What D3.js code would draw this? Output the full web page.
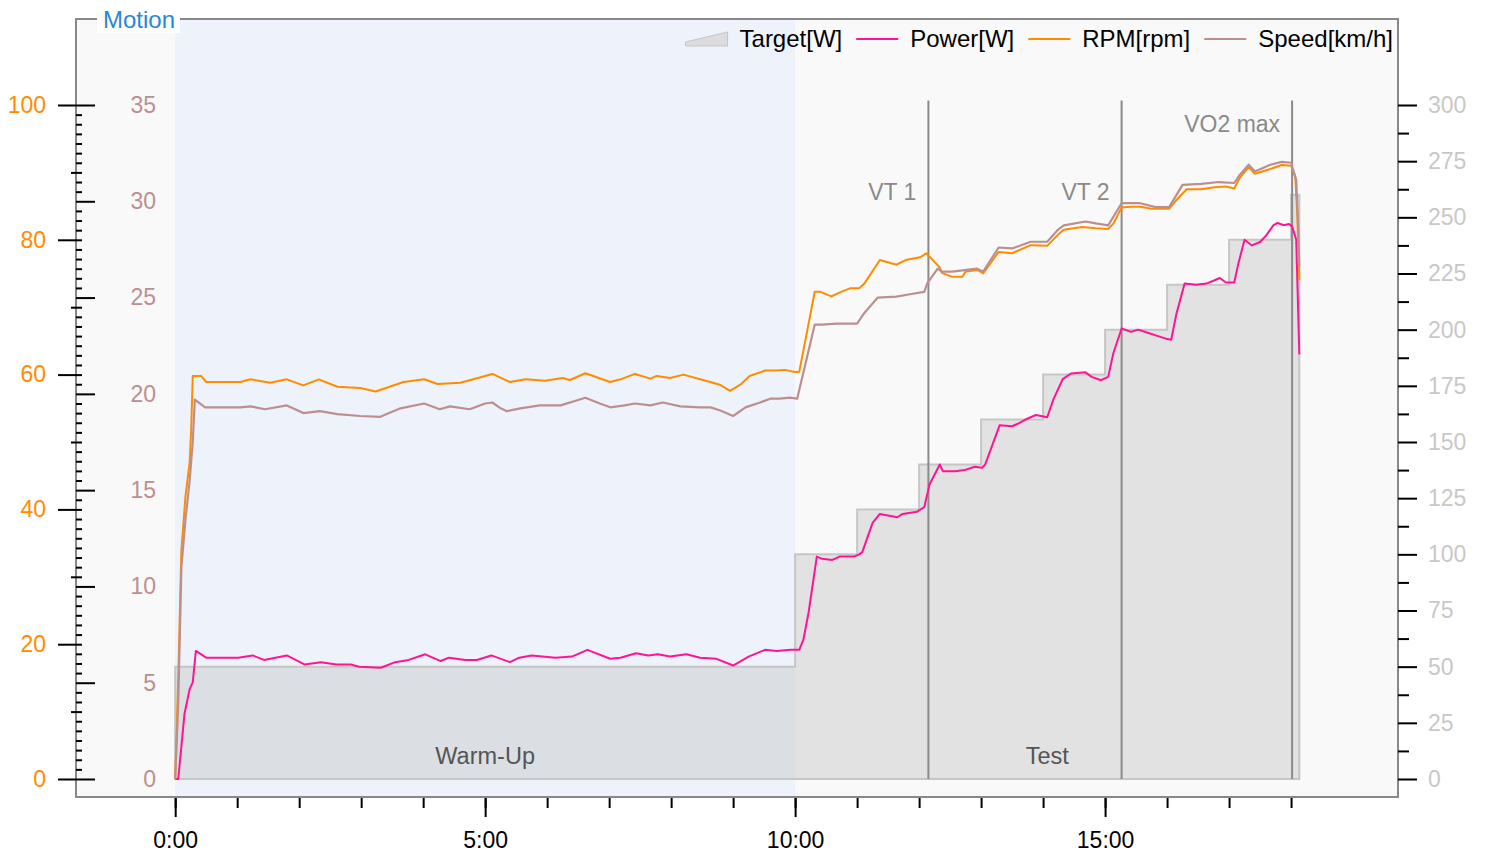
<!DOCTYPE html>
<html>
<head>
<meta charset="utf-8">
<script src="https://cdn.jsdelivr.net/npm/d3@7"></script>
<style>
  body { margin: 0; background: #fff; }
  svg text { font-family: "Liberation Sans", Arial, sans-serif; }
</style>
</head>
<body>
<svg id="chart" width="1487" height="855"></svg>
<script>

////////////////////////// DATA //////////////////////////

// [seconds, watts]
const powerData = [[0,0],[3,0],[9,29],[14,40],[17,43],[20,57],[30,54],[61,54],[75,55],[86,53],[108,55],[125,51],[141,52],[156,51],[170,51],[178,50],[199,49.5],[213,52],[226,53],[242,55.5],[257,52.5],[265,54],[281,53],[292,53],[306,55],[324,52],[333,54],[345,55],[368,54],[384,54.5],[399,57.5],[421,53.5],[431,54],[446,56],[458,55],[467,55.5],[479,54.5],[495,55.5],[508,54],[524,53.5],[540,50.5],[555,54.5],[571,57.5],[582,57],[596,57.5],[604,57.5],[608,62],[613,74],[621,99],[626,98],[636,97.5],[643,99],[657,99],[662,100],[665,101],[675,114],[682,118],[699,116.5],[704,118],[718,119],[725,121],[730,131],[740,140],[743,137],[755,137],[764,137.5],[774,139],[781,138.5],[784,140],[798,157.5],[810,157],[815,158],[823,160],[833,162],[844,161],[850,169],[859,178],[867,180.5],[881,181],[887,179],[896,177.5],[903,179],[908,189.5],[916,200.5],[925,199],[932,200],[942,198.5],[952,197],[959,196],[964,195.5],[969,207],[977,220.5],[988,220],[998,220.5],[1006,222],[1011,223],[1017,221],[1025,221],[1029,229.5],[1035,240],[1042,237.5],[1050,239],[1056,242],[1063,246.5],[1067,247.5],[1073,246.5],[1078,247],[1081,246],[1085,240],[1088,189]];

// [seconds, rpm]
const rpmData = [[0,0],[3,15],[6,34],[10,42],[14,47],[15.5,52],[17,59.8],[25,59.8],[30,58.9],[63,58.9],[73,59.3],[92,58.8],[108,59.3],[124,58.4],[139,59.3],[157,58.2],[179,58],[194,57.5],[221,58.9],[241,59.3],[254,58.6],[276,58.8],[293,59.5],[307,60.1],[324,58.9],[339,59.3],[358,59.1],[375,59.5],[382,59.2],[397,60.2],[408,59.6],[421,58.9],[431,59.3],[445,60.1],[460,59.4],[466,59.8],[479,59.5],[492,60],[508,59.3],[518,58.9],[527,58.5],[537,57.6],[547,58.5],[556,59.8],[571,60.6],[581,60.6],[590,60.7],[600,60.4],[604,60.4],[619,72.3],[624,72.3],[635,71.6],[645,72.3],[653,72.8],[662,72.8],[667,73.5],[682,77],[698,76.3],[707,77],[721,77.4],[727,78],[740,75.9],[742,75.1],[752,74.5],[762,74.5],[765,75.3],[777,75.5],[782,75],[797,78.2],[810,78],[828,79.2],[844,79.1],[854,80.7],[860,81.5],[878,81.9],[891,81.7],[903,81.6],[908,82.4],[916,84.8],[925,84.9],[934,84.9],[945,84.6],[962,84.6],[969,85.9],[979,87.5],[993,87.5],[1006,87.8],[1017,87.9],[1025,87.6],[1030,89.1],[1039,90.8],[1045,89.8],[1060,90.5],[1071,91.1],[1080,91],[1084,89.4],[1086,84],[1088,74]];

// [seconds, km/h]
const speedData = [[0,0],[3,4],[6,11],[10,13.5],[14,15.5],[17,17.5],[19,19.7],[29,19.3],[63,19.3],[73,19.35],[87,19.2],[108,19.4],[124,19],[140,19.1],[157,18.95],[179,18.85],[198,18.8],[218,19.25],[241,19.5],[256,19.2],[266,19.35],[285,19.2],[300,19.5],[307,19.55],[315,19.25],[321,19.1],[334,19.25],[353,19.4],[373,19.4],[397,19.8],[411,19.5],[421,19.3],[435,19.4],[445,19.5],[460,19.4],[472,19.55],[489,19.35],[508,19.3],[518,19.3],[527,19.15],[540,18.85],[552,19.3],[566,19.55],[576,19.75],[585,19.75],[595,19.8],[602,19.75],[619,23.6],[626,23.6],[640,23.65],[660,23.65],[667,24.2],[680,25],[698,25.05],[714,25.2],[725,25.3],[728,25.75],[738,26.5],[742,26.35],[752,26.35],[776,26.5],[782,26.35],[797,27.6],[810,27.55],[828,27.9],[844,27.9],[854,28.5],[860,28.75],[881,28.95],[891,28.85],[903,28.75],[916,29.9],[925,29.9],[934,29.9],[949,29.7],[962,29.7],[975,30.85],[993,30.9],[1010,31],[1025,30.95],[1030,31.35],[1039,31.9],[1045,31.55],[1060,31.9],[1071,32.05],[1080,32],[1085,31.1],[1087,28.5],[1088,26.6]];

// target steps: start second and watts
const targetTimes = [0, 600, 660, 720, 780, 840, 900, 960, 1020, 1080, 1088];
const targetWatts = [50, 100, 120, 140, 160, 180, 200, 220, 240, 260, 260];

// threshold markers
const markerNames = ['VT 1', 'VT 2', 'VO2 max'];
const markerTimes = [729, 916, 1081];

// phases
const phaseNames = ['Warm-Up', 'Test'];
const phaseStart = [0, 600];
const phaseEnd = [600, 1088];

// ticks
const rpmTicks = [0, 20, 40, 60, 80, 100];
const speedTicks = [0, 5, 10, 15, 20, 25, 30, 35];
const powerTicks = [0, 25, 50, 75, 100, 125, 150, 175, 200, 225, 250, 275, 300];
const timeLabels = [0, 300, 600, 900];

const legendNames = ['Target[W]', 'Power[W]', 'RPM[rpm]', 'Speed[km/h]'];

////////////////////////// SETUP //////////////////////////

const colPower = '#ff1493';
const colRpm = '#ff8c00';
const colSpeed = '#bc8f8f';
const colRightLabel = '#c8c8c8';
const fontSize = 23;

const svg = d3.select('#chart');
const frame = { left: 76, right: 1398, top: 19, bottom: 797 };
const yZero = 779, yTop = 105;

const xScale = d3.scaleLinear().domain([-96, 1183.5]).range([frame.left, frame.right]);
const yPower = d3.scaleLinear().domain([0, 300]).range([yZero, yTop]);
const yRpm = d3.scaleLinear().domain([0, 100]).range([yZero, yTop]);
const ySpeed = d3.scaleLinear().domain([0, 35]).range([yZero, yTop]);

const fmtTime = (s) => `${Math.floor(s / 60)}:${String(s % 60).padStart(2, '0')}`;

////////////////////////// BACKGROUND //////////////////////////

svg.append('rect')
  .attr('x', frame.left).attr('y', frame.top)
  .attr('width', frame.right - frame.left).attr('height', frame.bottom - frame.top)
  .attr('fill', '#f9f9f9');

// warm-up shading
svg.append('rect')
  .attr('x', xScale(phaseStart[0])).attr('y', frame.top)
  .attr('width', xScale(phaseEnd[0]) - xScale(phaseStart[0]))
  .attr('height', frame.bottom - frame.top)
  .attr('fill', '#eef3fb');

////////////////////////// TARGET AREA //////////////////////////

const targetData = d3.zip(targetTimes, targetWatts);
const targetArea = d3.area()
  .x(d => xScale(d[0]))
  .y0(yPower(0))
  .y1(d => yPower(d[1]))
  .curve(d3.curveStepAfter);

svg.append('path')
  .datum(targetData)
  .attr('d', targetArea)
  .attr('fill', 'rgba(182,182,182,0.35)')
  .attr('stroke', '#c6c6c6')
  .attr('stroke-width', 2);

////////////////////////// MARKERS //////////////////////////

const markerLabelY = [192, 192, 124];
markerTimes.forEach((t, i) => {
  svg.append('line')
    .attr('x1', xScale(t)).attr('x2', xScale(t))
    .attr('y1', yPower(302)).attr('y2', yPower(0))
    .attr('stroke', '#8a8a8a').attr('stroke-width', 2);
  svg.append('text')
    .attr('x', xScale(t) - 12).attr('y', markerLabelY[i])
    .attr('dy', '0.35em')
    .attr('text-anchor', 'end')
    .attr('font-size', fontSize)
    .attr('fill', '#8a8a8a')
    .text(markerNames[i]);
});

// phase labels
phaseNames.forEach((p, i) => {
  svg.append('text')
    .attr('x', xScale((phaseStart[i] + phaseEnd[i]) / 2))
    .attr('y', 756).attr('dy', '0.35em')
    .attr('text-anchor', 'middle')
    .attr('font-size', 23.5)
    .attr('fill', '#555')
    .text(p);
});

////////////////////////// LINES //////////////////////////

const drawLine = (data, yScale, color, w) => {
  svg.append('path')
    .datum(data)
    .attr('d', d3.line().x(d => xScale(d[0])).y(d => yScale(d[1])))
    .attr('fill', 'none')
    .attr('stroke', color)
    .attr('stroke-width', w)
    .attr('stroke-linejoin', 'round');
};
drawLine(powerData, yPower, colPower, 2);
drawLine(rpmData, yRpm, colRpm, 2);
drawLine(speedData, ySpeed, colSpeed, 2.2);

////////////////////////// FRAME + AXES //////////////////////////

svg.append('rect')
  .attr('x', frame.left).attr('y', frame.top)
  .attr('width', frame.right - frame.left).attr('height', frame.bottom - frame.top)
  .attr('fill', 'none').attr('stroke', '#888').attr('stroke-width', 2);

const styleAxis = (g, color) => {
  g.select('.domain').remove();
  g.selectAll('line').attr('stroke', '#000').attr('stroke-width', 2);
  g.selectAll('text')
    .attr('font-size', fontSize)
    .attr('fill', color)
    .style('font-family', '"Liberation Sans", Arial, sans-serif');
};

// rpm (left, outer)
svg.append('g').attr('transform', `translate(${frame.left},0)`)
  .call(d3.axisLeft(yRpm).tickValues([10, 30, 50, 70, 90]).tickSize(5).tickFormat(''))
  .call(g => styleAxis(g, colRpm));
svg.append('g').attr('transform', `translate(${frame.left},0)`)
  .call(d3.axisLeft(yRpm).tickValues(rpmTicks).tickSize(18).tickPadding(12))
  .call(g => styleAxis(g, colRpm));

// speed (left, inner)
const speedMinor = d3.range(0, 35.01, 0.5).filter(v => v % 5 !== 0);
svg.append('g').attr('transform', `translate(${frame.left},0)`)
  .call(d3.axisRight(ySpeed).tickValues(speedMinor).tickSize(6).tickFormat(''))
  .call(g => styleAxis(g, colSpeed));
svg.append('g').attr('transform', `translate(${frame.left},0)`)
  .call(d3.axisRight(ySpeed).tickValues(speedTicks).tickSize(19))
  .call(g => styleAxis(g, colSpeed))
  .call(g => g.selectAll('text').attr('text-anchor', 'end').attr('x', 80));

// power (right)
svg.append('g').attr('transform', `translate(${frame.right},0)`)
  .call(d3.axisRight(yPower).tickValues(powerTicks.slice(0, -1).map(v => v + 12.5)).tickSize(11).tickFormat(''))
  .call(g => styleAxis(g, colRightLabel));
svg.append('g').attr('transform', `translate(${frame.right},0)`)
  .call(d3.axisRight(yPower).tickValues(powerTicks).tickSize(19).tickPadding(11))
  .call(g => styleAxis(g, colRightLabel));

// time (bottom)
svg.append('g').attr('transform', `translate(0,${frame.bottom + 1})`)
  .call(d3.axisBottom(xScale).tickValues(d3.range(0, 1081, 60)).tickSize(10).tickFormat(''))
  .call(g => styleAxis(g, '#000'));
svg.append('g').attr('transform', `translate(0,${frame.bottom + 1})`)
  .call(d3.axisBottom(xScale).tickValues(timeLabels).tickSize(19).tickPadding(15).tickFormat(fmtTime))
  .call(g => styleAxis(g, '#000'));

////////////////////////// TITLE //////////////////////////

svg.append('rect').attr('x', 97).attr('y', 9).attr('width', 83).attr('height', 24).attr('fill', '#fff');
svg.append('text')
  .attr('x', 103).attr('y', 20).attr('dy', '0.35em')
  .attr('font-size', 24).attr('fill', '#2a87d0')
  .text('Motion');

////////////////////////// LEGEND //////////////////////////

const legend = svg.append('g');
const legendY = 39;
let cursor = 1393;
const legendColors = [null, colPower, colRpm, colSpeed];
for (let i = legendNames.length - 1; i >= 0; i--) {
  const t = legend.append('text')
    .attr('y', legendY).attr('dy', '0.35em')
    .attr('font-size', 24).attr('fill', '#000')
    .text(legendNames[i]);
  const w = t.node().getComputedTextLength();
  const tx = cursor - w;
  t.attr('x', tx);
  const sx = tx - 12 - 42;
  if (legendColors[i]) {
    legend.append('line')
      .attr('x1', sx).attr('x2', sx + 42)
      .attr('y1', legendY).attr('y2', legendY)
      .attr('stroke', legendColors[i]).attr('stroke-width', 2);
  } else {
    legend.append('path')
      .attr('d', `M${sx},${legendY + 7} L${sx},${legendY + 3} L${sx + 42},${legendY - 7} L${sx + 42},${legendY + 7} Z`)
      .attr('fill', '#dcdcdc').attr('stroke', '#c6c6c6').attr('stroke-width', 1);
  }
  cursor = sx - 14;
}
</script>
</body>
</html>
